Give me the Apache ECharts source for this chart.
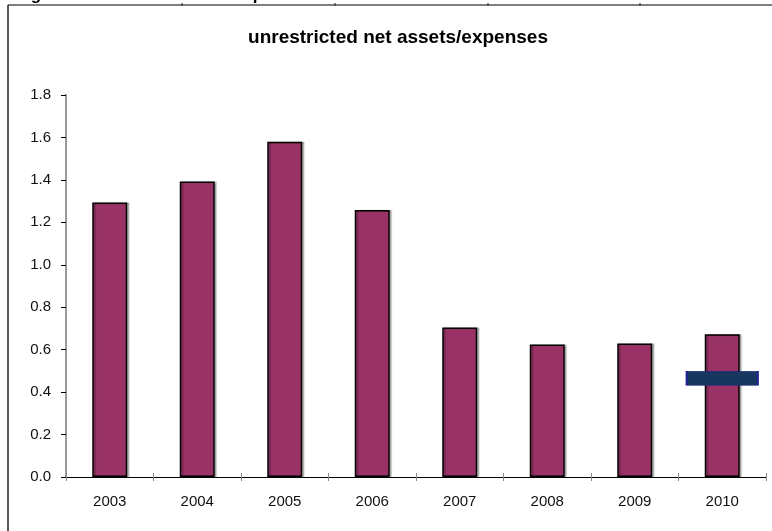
<!DOCTYPE html>
<html>
<head>
<meta charset="utf-8">
<script src="https://cdn.jsdelivr.net/npm/echarts@6/dist/echarts.min.js"></script>
<style>
html,body{margin:0;padding:0;background:#fff;}
#chart{width:772px;height:531px;}
</style>
</head>
<body>
<div id="chart"></div>
<script>
const categories = ['2003','2004','2005','2006','2007','2008','2009','2010'];
const ratioValues = [1.294, 1.392, 1.580, 1.258, 0.705, 0.624, 0.629, 0.673];
const targetValues = ['-','-','-','-','-','-','-',0.465];
const titleText = 'unrestricted net assets/expenses';

const chart = echarts.init(document.getElementById('chart'), null, {renderer:'canvas'});
const font = '"Liberation Sans", Arial, sans-serif';
chart.setOption({
  animation:false,
  backgroundColor:'#ffffff',
  graphic:[
    {type:'text', x:36, y:4, style:{text:'g', fill:'#000', font:'bold 17px '+font, align:'center', verticalAlign:'bottom'}},
    {type:'text', x:258, y:4, style:{text:'p', fill:'#000', font:'bold 17px '+font, align:'center', verticalAlign:'bottom'}},
    {type:'line', shape:{x1:8,y1:5,x2:772,y2:5}, style:{stroke:'#555',lineWidth:1.5}},
    {type:'line', shape:{x1:8,y1:5,x2:8,y2:531}, style:{stroke:'#222',lineWidth:1.5}},
    {type:'line', shape:{x1:182,y1:3,x2:182,y2:6}, style:{stroke:'#222',lineWidth:1}},
    {type:'line', shape:{x1:335,y1:3,x2:335,y2:6}, style:{stroke:'#222',lineWidth:1}},
    {type:'line', shape:{x1:488,y1:3,x2:488,y2:6}, style:{stroke:'#222',lineWidth:1}},
    {type:'line', shape:{x1:640,y1:3,x2:640,y2:6}, style:{stroke:'#222',lineWidth:1}},
    {type:'text', x:398, y:38, style:{text:titleText, fill:'#000', font:'bold 19px '+font, align:'center', verticalAlign:'middle'}}
  ],
  grid:{left:66, right:6, top:95, bottom:54},
  xAxis:[{
    type:'category', data:categories, position:'bottom',
    axisLine:{show:true, lineStyle:{color:'#000', width:1}},
    axisTick:{show:true, alignWithLabel:false, length:4, lineStyle:{color:'#888', width:1}},
    axisLabel:{color:'#111', fontSize:15, fontFamily:font, margin:17},
    splitLine:{show:false}
  },{
    type:'category', data:categories, position:'bottom',
    axisLine:{show:false},
    axisTick:{show:true, inside:true, length:4, lineStyle:{color:'#888', width:1}},
    axisLabel:{show:false},
    splitLine:{show:false}
  }],
  yAxis:{
    type:'value', min:0, max:1.8, interval:0.2,
    axisLine:{show:true, lineStyle:{color:'#999', width:2}},
    axisTick:{show:true, length:5, lineStyle:{color:'#000', width:1}},
    axisLabel:{color:'#111', fontSize:15, fontFamily:font, margin:15, formatter:v=>v.toFixed(1)},
    splitLine:{show:false}
  },
  series:[{
    type:'bar', data:ratioValues, barWidth:'40%',
    itemStyle:{color:'#993366', borderColor:'#000', borderWidth:1.5, shadowColor:'rgba(0,0,0,0.25)', shadowOffsetX:2, shadowBlur:1}
  },{
    type:'scatter', data:targetValues, symbol:'rect', symbolSize:[71,14], z:5,
    itemStyle:{color:'#17375E', borderColor:'#1F2590', borderWidth:1, opacity:1}
  }]
});
</script>
</body>
</html>
